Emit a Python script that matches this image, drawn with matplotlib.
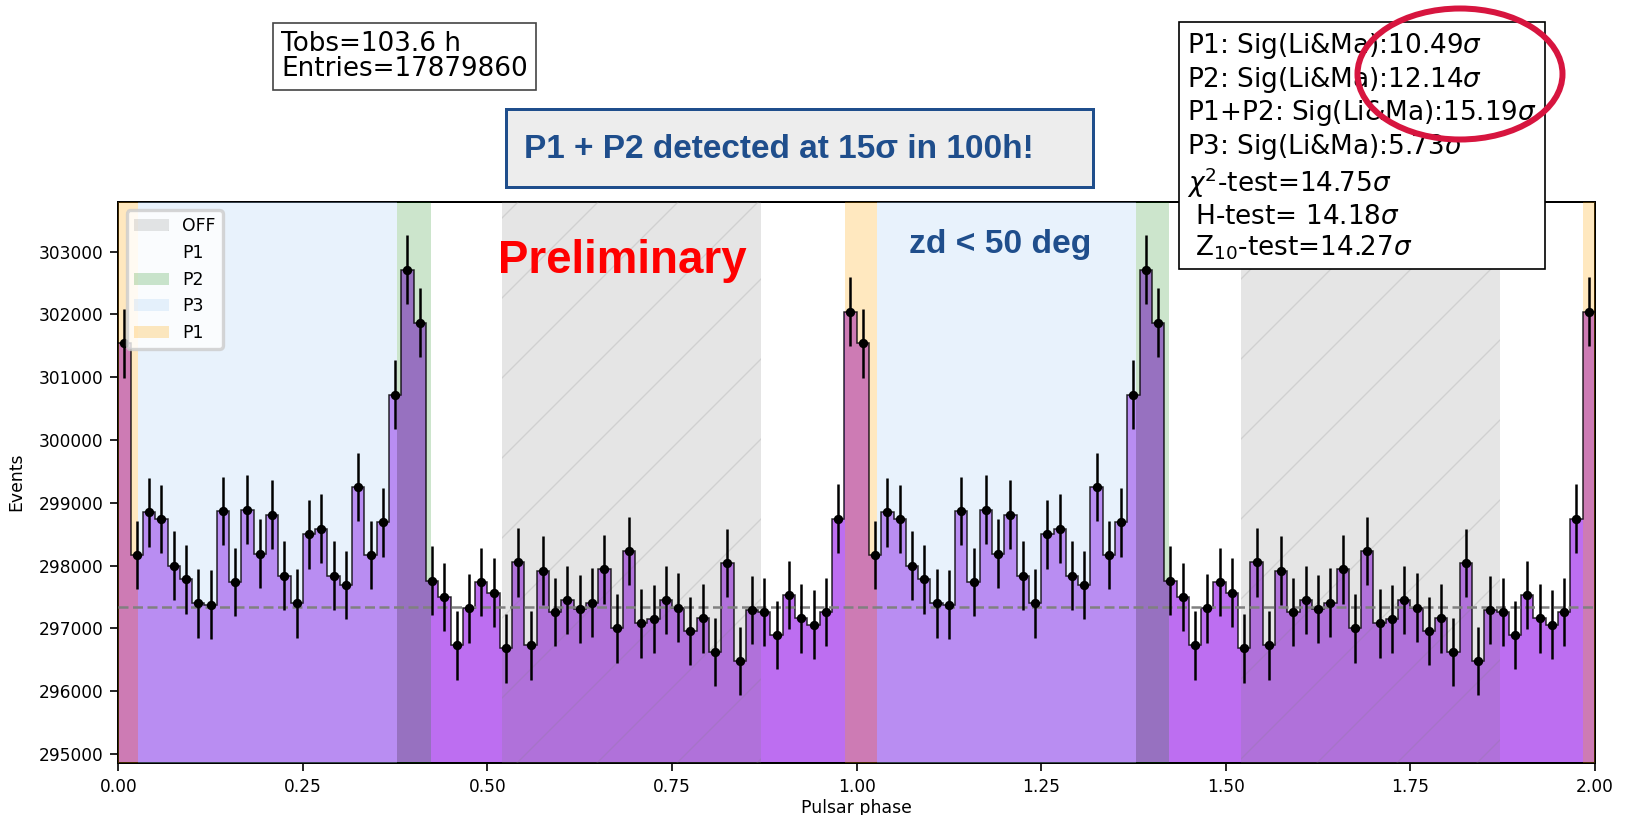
import numpy as np
import matplotlib
matplotlib.use('Agg')
import matplotlib.pyplot as plt
import matplotlib.patches as mpatches
from matplotlib.ticker import FormatStrFormatter

# Events per phase bin (60 bins over one rotation)
counts = [301540, 298170, 298850, 298740, 298000, 297780, 297400, 297380, 298870, 297740,
          298890, 298190, 298810, 297840, 297400, 298500, 298590, 297840, 297690, 299250,
          298170, 298690, 300720, 302710, 301870, 297760, 297500, 296730, 297320, 297740,
          297570, 296680, 298050, 296730, 297920, 297260, 297450, 297310, 297410, 297940,
          297000, 298230, 297080, 297150, 297450, 297330, 296960, 297160, 296620, 298040,
          296480, 297290, 297260, 296890, 297530, 297160, 297060, 297260, 298750, 302040]
mean_level = 297340

# Phase regions
off_region = (0.520, 0.871)
p1_region = (-0.016, 0.027)
p2_region = (0.378, 0.423)
p3_region = (0.027, 0.378)

stats_text = ("P1: Sig(Li&Ma):10.49$\\sigma$\n"
              "P2: Sig(Li&Ma):12.14$\\sigma$\n"
              "P1+P2: Sig(Li&Ma):15.19$\\sigma$\n"
              "P3: Sig(Li&Ma):5.73$\\sigma$\n"
              "$\\chi^2$-test=14.75$\\sigma$\n"
              " H-test= 14.18$\\sigma$\n"
              " Z$_{10}$-test=14.27$\\sigma$")
obs_text = "Tobs=103.6 h\nEntries=17879860"

DPI = 240
W, H = 1627, 815
plt.rcParams['hatch.linewidth'] = 0.4

def fx(px):
    return px / W

def fy(py):
    return 1 - py / H

# two rotations
vals = np.concatenate([counts, counts])
edges = np.linspace(0, 2, len(vals) + 1)
centers = 0.5 * (edges[:-1] + edges[1:])
err = np.sqrt(vals)

fig = plt.figure(figsize=(W / DPI, H / DPI), dpi=DPI)
ax = fig.add_axes([0.0727, 0.0642, 0.9076, 0.6883])

ax.stairs(vals, edges, fill=True, baseline=0, color='#BD6EF1', lw=0, zorder=1)

handles = {}
for c in (0, 1):
    h = ax.axvspan(off_region[0] + c, off_region[1] + c, facecolor='gray', edgecolor='gray',
                   hatch='/', alpha=0.2, lw=0, zorder=4)
    handles.setdefault('OFF', h)
    h = ax.axvspan(p2_region[0] + c, p2_region[1] + c, color='green', alpha=0.2, lw=0, zorder=4)
    handles.setdefault('P2', h)
    h = ax.axvspan(p3_region[0] + c, p3_region[1] + c, color='#B3D5F6', alpha=0.3, lw=0, zorder=4)
    handles.setdefault('P3', h)
for c in (0, 1, 2):
    h = ax.axvspan(p1_region[0] + c, p1_region[1] + c, color='orange', alpha=0.25, lw=0, zorder=4)
    handles.setdefault('P1', h)

ax.stairs(vals, edges, baseline=None, color='k', lw=0.45, alpha=0.85, zorder=5)
ax.axhline(mean_level, color='#808080', lw=0.75, ls=(0, (4, 1.8)), zorder=5.5)
ax.errorbar(centers, vals, yerr=err, fmt='o', color='k', ms=1.8, elinewidth=0.75,
            capsize=0, zorder=6)

blank = mpatches.Patch(facecolor='none', edgecolor='none')
leg = ax.legend([handles['OFF'], blank, handles['P2'], handles['P3'], handles['P1']],
                ['OFF', 'P1', 'P2', 'P3', 'P1'], loc='upper left', fontsize=5.2)
leg.set_zorder(10)

ax.set_xlim(0, 2)
ax.set_ylim(294861, 303796)
ax.set_xticks(np.arange(0, 2.01, 0.25))
ax.xaxis.set_major_formatter(FormatStrFormatter('%.2f'))
ax.set_yticks(np.arange(295000, 303001, 1000))
ax.yaxis.set_major_formatter(FormatStrFormatter('%d'))
ax.tick_params(labelsize=5.1, length=2.5, width=0.5, pad=2)
for s in ax.spines.values():
    s.set_linewidth(0.6)
ax.set_xlabel('Pulsar phase', fontsize=5.2, labelpad=1)
ax.set_ylabel('Events', fontsize=5.2)

# annotation boxes
fig.text(fx(1187), fy(31), stats_text, fontsize=7.9, va='top', ha='left', zorder=6,
         linespacing=1.16,
         bbox=dict(boxstyle='square,pad=0.3', fc='white', ec='black', lw=0.5))
fig.text(fx(281), fy(31), obs_text, fontsize=7.9, va='top', ha='left', linespacing=0.95,
         bbox=dict(boxstyle='square,pad=0.3', fc='white', ec='#444444', lw=0.5))

fig.add_artist(mpatches.Rectangle((fx(506), fy(187)), (1093 - 506) / W, (187 - 109) / H,
                                  transform=fig.transFigure, fc='#EDEDED', ec='#1F4E8C',
                                  lw=0.9, zorder=5))
bold = dict(family=['Liberation Sans', 'DejaVu Sans'], fontweight='bold', va='baseline')
fig.text(fx(524), fy(158), 'P1 + P2 detected at 15σ in 100h!', fontsize=10,
         color='#1F4E8C', zorder=6, **bold)
fig.text(fx(498), fy(273), 'Preliminary', fontsize=13.7, color='#FF0000', zorder=6, **bold)
fig.text(fx(909), fy(253), 'zd < 50 deg', fontsize=10.1, color='#1F4E8C', zorder=6, **bold)

fig.add_artist(mpatches.Ellipse((fx(1460), fy(74)), 205 / W, 131 / H, transform=fig.transFigure,
                                fill=False, ec='#D7153F', lw=1.8, zorder=10))

fig.savefig('out.png', dpi=DPI)
